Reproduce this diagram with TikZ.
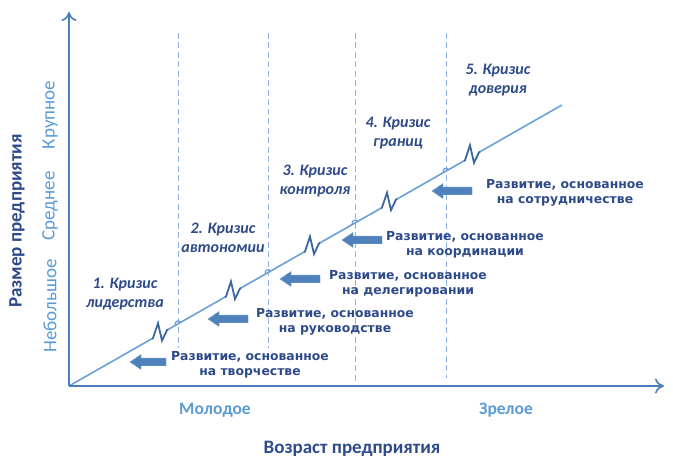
\documentclass[tikz,border=0pt]{standalone}
\usepackage{fontspec}
\setmainfont{Carlito}
\newfontfamily\dv{DejaVu Sans}
\usetikzlibrary{arrows.meta}
\definecolor{axisc}{HTML}{4A7EBB}
\definecolor{linec}{HTML}{6A9FD8}
\definecolor{dashc}{HTML}{8DB4E2}
\definecolor{navy}{HTML}{2E4A88}
\definecolor{lightt}{HTML}{5B9BD5}
\definecolor{arrc}{HTML}{4F81BD}
\definecolor{zigc}{HTML}{3A679F}
\tikzset{
  axis/.style={draw=axisc, line width=2.6pt, -{To[length=9pt,width=15pt,line width=1.6pt]}},
  vdash/.style={draw=dashc, line width=0.8pt, dash pattern=on 6pt off 3.5pt},
  crisis/.style={text=navy, font=\bfseries\itshape\fontsize{16}{19.5}\selectfont, align=center},
  devt/.style={text=navy, font=\dv\bfseries\fontsize{12.4}{15.5}\selectfont, align=center},
  ylab/.style={text=lightt, font=\fontsize{19}{22}\selectfont, rotate=90},
  xlab/.style={text=lightt, font=\bfseries\fontsize{17.5}{20}\selectfont},
  title/.style={text=navy, font=\bfseries\fontsize{19}{22}\selectfont},
  blockarrow/.style={fill=arrc, draw=arrc!80!white, line width=0.4pt},
}
\newcommand{\barrow}[3]{% right x, left x (tip), y
  \fill[blockarrow] (#1,-#3+3.8) -- (#2+11,-#3+3.8) -- (#2+11,-#3+7.5) -- (#2,-#3) -- (#2+11,-#3-7.5) -- (#2+11,-#3-3.8) -- (#1,-#3-3.8) -- cycle;}
\newcommand{\zig}[1]{% center x on the line
  \begin{scope}[shift={(#1,{-386+0.57*(#1-69)})}]
    \draw[white, line width=3pt] (-7,-3.99) -- (7,3.99);
    \draw[zigc, line width=1.8pt, line join=miter] (-8,-4.56) -- (-7,-3.99) -- (-2,11) -- (2,-6.5) -- (7,3.99) -- (8,4.56);
  \end{scope}}
\newcommand{\hop}[1]{%
  \begin{scope}[shift={(#1,{-386+0.57*(#1-69)})}]
    \draw[linec, line width=1.2pt] (-2.5,-1.4) arc[start angle=210, end angle=30, radius=2.9];
  \end{scope}}
\begin{document}
\begin{tikzpicture}[x=1pt,y=1pt]
\useasboundingbox (0,0) rectangle (673,-470);
\coordinate (O) at (69,-386);
\coordinate (Ytop) at (69,-12);
\coordinate (Xend) at (664,-386);
\coordinate (Lend) at (562,-105);
% dashed verticals
\coordinate (d1t) at (178,-33); \coordinate (d1b) at (178,-348);
\coordinate (d2t) at (268,-33); \coordinate (d2b) at (268,-348);
\coordinate (d3t) at (355,-33); \coordinate (d3b) at (355,-382);
\coordinate (d4t) at (446,-33); \coordinate (d4b) at (446,-378);
\draw[vdash] (d1t) -- (d1b);
\draw[vdash] (d2t) -- (d2b);
\draw[vdash] (d3t) -- (d3b);
\draw[vdash] (d4t) -- (d4b);
% diagonal
\draw[linec, line width=1.6pt] (O) -- (Lend);
\hop{178}\hop{268}\hop{355}\hop{446}
\zig{160}\zig{233}\zig{312}\zig{389}\zig{472}
% axes
\draw[axis] (O) -- (Ytop);
\draw[axis] (O) -- (Xend);
% block arrows
\barrow{166}{130}{362}
\barrow{248}{208}{319}
\barrow{320}{280}{279}
\barrow{382}{342}{240}
\barrow{472}{432}{191}
% crisis labels
\node[crisis] (c1) at (125,-294) {1. Кризис\\лидерства};
\node[crisis] (c2) at (223,-238) {2. Кризис\\автономии};
\node[crisis] (c3) at (315,-181) {3. Кризис\\контроля};
\node[crisis] (c4) at (398,-133) {4. Кризис\\границ};
\node[crisis] (c5) at (498,-80) {5. Кризис\\доверия};
% development labels
\node[devt] (r1) at (250,-365) {Развитие, основанное\\на творчестве};
\node[devt] (r2) at (335,-322) {Развитие, основанное\\на руководстве};
\node[devt] (r3) at (408,-284) {Развитие, основанное\\на делегировании};
\node[devt] (r4) at (465,-245) {Развитие, основанное\\на координации};
\node[devt] (r5) at (565,-193) {Развитие, основанное\\на сотрудничестве};
% axis labels
\node[ylab] (y1) at (50,-306) {Небольшое};
\node[ylab] (y2) at (50,-206) {Среднее};
\node[ylab] (y3) at (50,-115) {Крупное};
\node[title, rotate=90] (yt) at (17,-221) {Размер предприятия};
\node[xlab] (x1) at (215,-410) {Молодое};
\node[xlab] (x2) at (506,-410) {Зрелое};
\node[title] (xt) at (352,-449) {Возраст предприятия};
\end{tikzpicture}
\end{document}
